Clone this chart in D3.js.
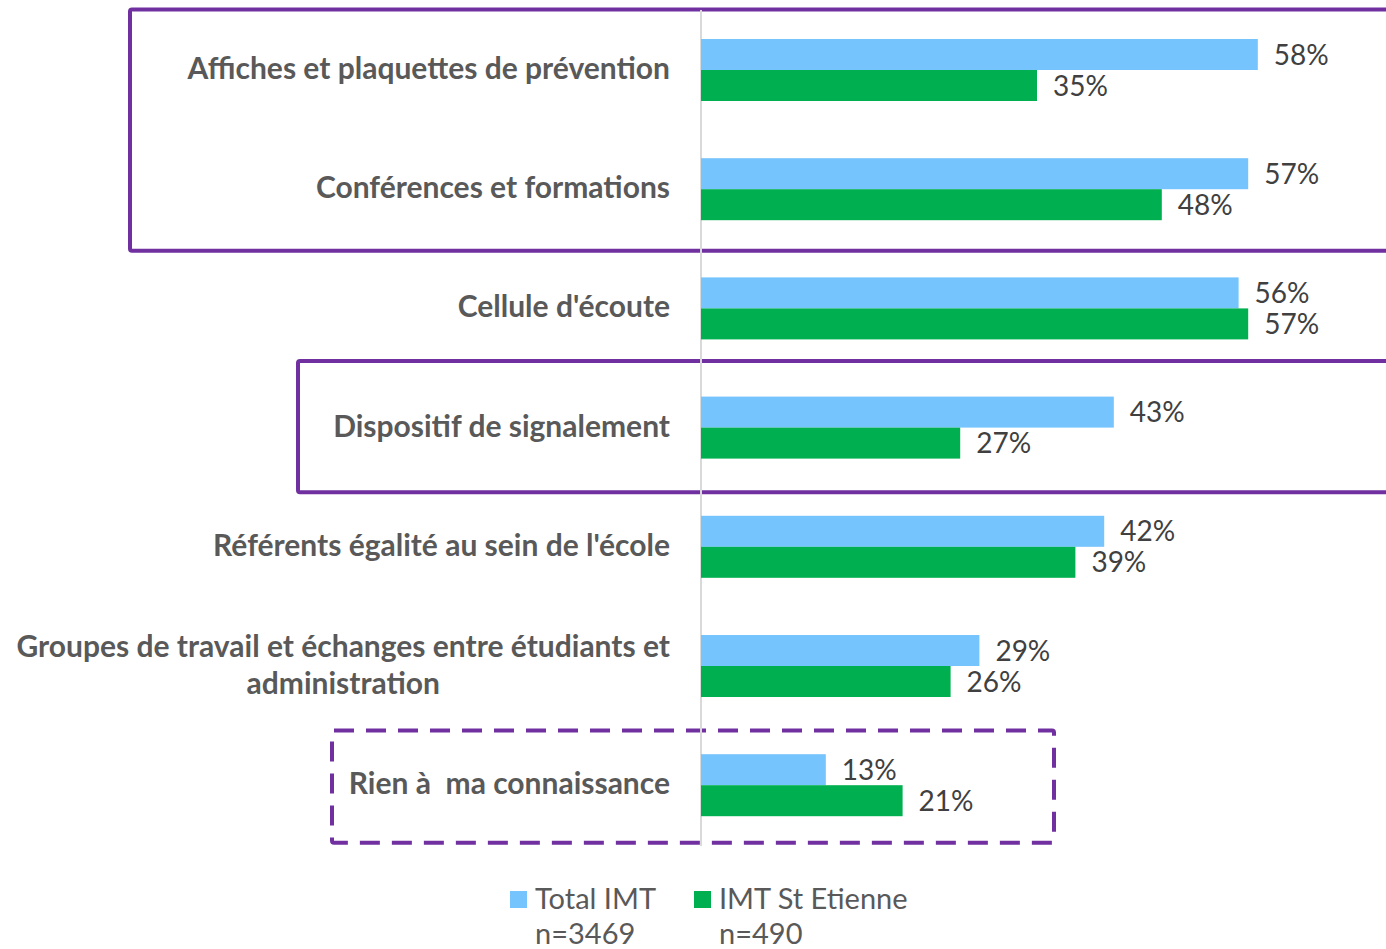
<!DOCTYPE html>
<html>
<head>
<meta charset="utf-8">
<script src="https://cdn.jsdelivr.net/npm/d3@7"></script>
<style>
  body { margin: 0; background: #fff; }
  svg { display: block; }
</style>
</head>
<body>
<div id="chart"></div>
<script>
// données
const categories = [
  "Affiches et plaquettes de prévention",
  "Conférences et formations",
  "Cellule d'écoute",
  "Dispositif de signalement",
  "Référents égalité au sein de l'école",
  "Groupes de travail et échanges entre étudiants et|administration",
  "Rien à  ma connaissance"
]
const totalIMT = [58, 57, 56, 43, 42, 29, 13]
const stEtienne = [35, 48, 57, 27, 39, 26, 21]
const seriesNames = ["Total IMT", "IMT St Etienne"]
const seriesN = ["n=3469", "n=490"]
const seriesColors = ["#75c4fd", "#00b050"]
// catégories encadrées (plein / pointillé)
const boxes = [
  { from: 0, to: 1, left: 130, right: 1400, padTop: 1, padBottom: 2, dashed: false },
  { from: 3, to: 3, left: 298, right: 1400, padTop: 7, padBottom: 5, dashed: false },
  { from: 6, to: 6, left: 332, right: 1054, padTop: -5, padBottom: -2, dashed: true }
]

const width = 1386
const height = 949
const purple = '#7030a0'

const svg = d3.select('#chart')
  .append('svg')
  .attr('width', width)
  .attr('height', height)
  .style('font-family', 'Lato, "Open Sans", sans-serif')

const x = d3.scaleLinear().domain([0, 60]).range([701, 1277])
const y = d3.scaleBand().domain(d3.range(categories.length)).range([10.4, 844.8]).padding(0)
const ySub = d3.scaleBand().domain([0, 1]).range([-31, 31]).padding(0)

const data = categories.map((c, i) => ({ i, label: c, values: [totalIMT[i], stEtienne[i]] }))

// encadrés
boxes.forEach(b => {
  const top = y(b.from) - b.padTop
  const bottom = y(b.to) + y.bandwidth() + b.padBottom
  svg.append('rect')
    .attr('x', b.left)
    .attr('y', top)
    .attr('width', b.right - b.left)
    .attr('height', bottom - top)
    .attr('rx', 2)
    .attr('fill', 'none')
    .attr('stroke', purple)
    .attr('stroke-width', 4)
    .attr('stroke-dasharray', b.dashed ? '20,12' : null)
})

// axe vertical
svg.append('line')
  .attr('x1', x(0)).attr('x2', x(0))
  .attr('y1', 10).attr('y2', 846)
  .attr('stroke', '#d9d9d9')
  .attr('stroke-width', 2)

const groups = svg.selectAll('.grp')
  .data(data)
  .join('g')
  .attr('class', 'grp')
  .attr('transform', d => `translate(0, ${y(d.i) + y.bandwidth() / 2})`)

groups.selectAll('rect')
  .data(d => d.values)
  .join('rect')
  .attr('x', x(0))
  .attr('y', (v, k) => ySub(k))
  .attr('width', v => x(v) - x(0))
  .attr('height', ySub.bandwidth())
  .attr('fill', (v, k) => seriesColors[k])

groups.selectAll('.val')
  .data(d => d.values)
  .join('text')
  .attr('class', 'val')
  .attr('x', v => x(v) + 16)
  .attr('y', (v, k) => ySub(k) + ySub.bandwidth() / 2)
  .attr('dy', '0.36em')
  .attr('fill', '#404040')
  .style('font-size', '28px')
  .text(v => v + '%')

// libellés des catégories
groups.each(function (d) {
  const lines = d.label.split('|')
  const g = d3.select(this).append('g')
    .attr('transform', 'translate(670, 0)')
  const texts = lines.map((l, j) => g.append('text')
    .attr('y', (j - (lines.length - 1) / 2) * 37)
    .attr('dy', '0.3em')
    .attr('fill', '#595959')
    .style('font-size', '30px')
    .style('font-weight', 'bold')
    .style('white-space', 'pre')
    .text(l))
  const w = d3.max(texts, t => t.node().getComputedTextLength())
  texts.forEach(t => t.attr('text-anchor', 'middle').attr('x', -w / 2))
})

// légende
const legend = svg.append('g')
const legX = [510, 694]
seriesNames.forEach((s, k) => {
  const lg = legend.append('g').attr('transform', `translate(${legX[k]}, 891)`)
  lg.append('rect').attr('width', 17).attr('height', 17).attr('fill', seriesColors[k])
  lg.append('text').attr('x', 25).attr('y', 18)
    .attr('fill', '#595959').style('font-size', '29px').text(s)
  lg.append('text').attr('x', 25).attr('y', 53)
    .attr('fill', '#595959').style('font-size', '29px').text(seriesN[k])
})
</script>
</body>
</html>
